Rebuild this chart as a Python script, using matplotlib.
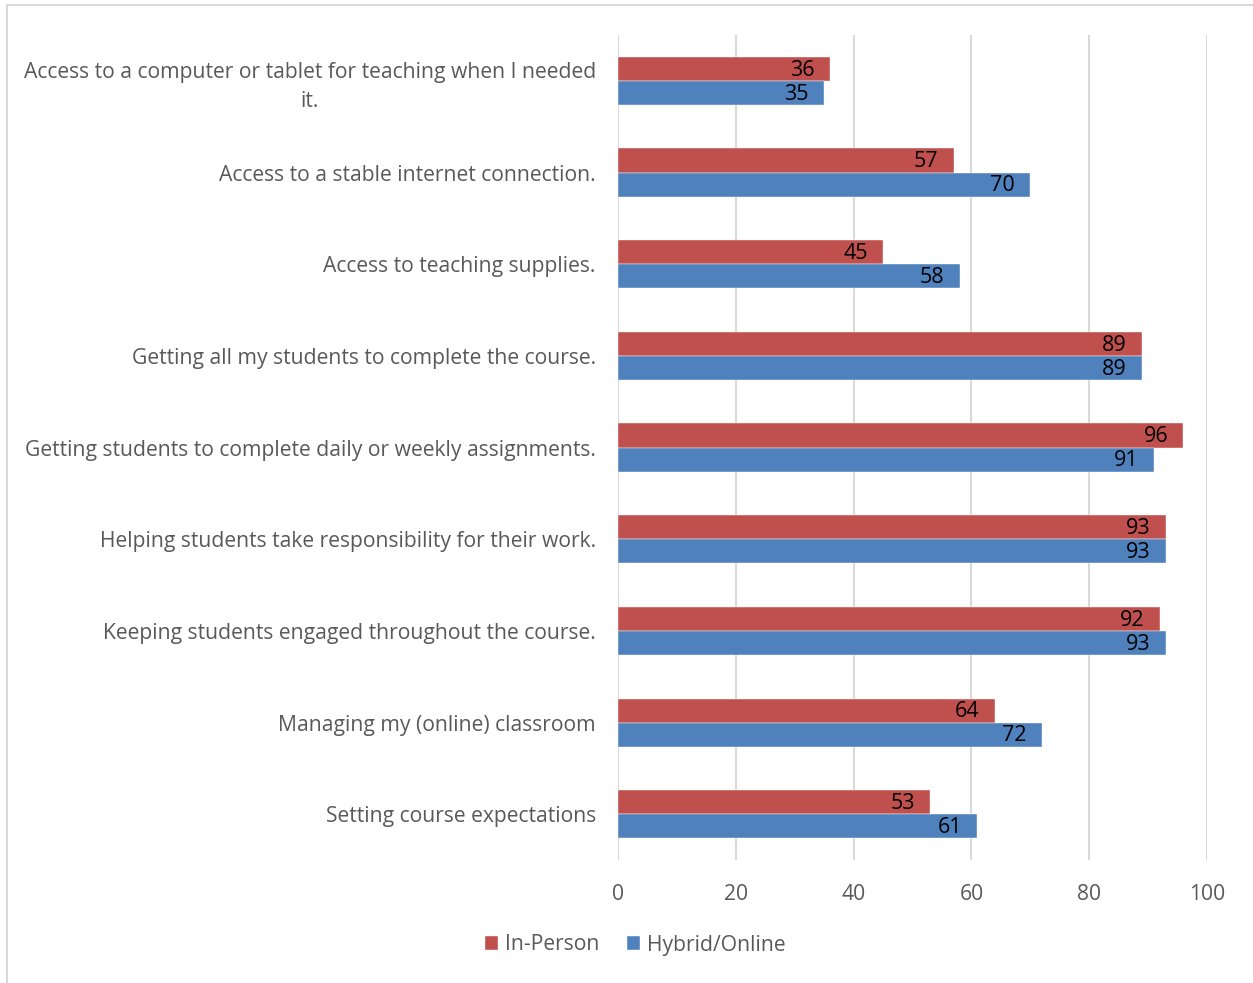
import numpy as np
import matplotlib
matplotlib.use("Agg")
from matplotlib import pyplot as plt
from matplotlib.patches import Rectangle

categories = [
    "Access to a computer or tablet for teaching when I needed\nit.",
    "Access to a stable internet connection.",
    "Access to teaching supplies.",
    "Getting all my students to complete the course.",
    "Getting students to complete daily or weekly assignments.",
    "Helping students take responsibility for their work.",
    "Keeping students engaged throughout the course.",
    "Managing my (online) classroom",
    "Setting course expectations",
]
in_person = [36, 57, 45, 89, 96, 93, 92, 64, 53]
hybrid_online = [35, 70, 58, 89, 91, 93, 93, 72, 61]
x_ticks = [0, 20, 40, 60, 80, 100]

red = "#C0504D"
blue = "#4F81BD"
grey_text = "#595959"

plt.rcParams["font.family"] = ["Open Sans", "DejaVu Sans"]

fig = plt.figure(figsize=(12.53, 9.83), dpi=100)
ax = fig.add_axes([0.4932, 0.1251, 0.4701, 0.8393])

# light frame around the chart area
fig.patches.append(Rectangle((7 / 1253, -0.05), 1.1, 1 - 5 / 983 + 0.05,
                             transform=fig.transFigure, fill=False,
                             edgecolor="#D9D9D9", lw=1.5))

y = np.arange(len(categories))
h = 0.262
ax.barh(y - h / 2, in_person, height=h, color=red, label="In-Person",
        edgecolor="white", linewidth=0.3, zorder=3)
ax.barh(y + h / 2, hybrid_online, height=h, color=blue, label="Hybrid/Online",
        edgecolor="white", linewidth=0.3, zorder=3)

# value labels just inside the bar ends
for vals, offs in ((in_person, -h / 2), (hybrid_online, h / 2)):
    for yi, v in zip(y, vals):
        ax.annotate(str(v), (v, yi + offs), xytext=(-11, -1), textcoords="offset points",
                    ha="right", va="center", fontsize=15.5, color="black", zorder=4)

ax.set_xlim(0, 100)
ax.set_ylim(len(categories) - 0.5, -0.5)
ax.set_xticks(x_ticks)
ax.set_yticks(y)
ax.set_yticklabels(categories, multialignment="center", linespacing=1.45)
ax.tick_params(axis="both", length=0, labelsize=15.2, labelcolor=grey_text)
ax.tick_params(axis="x", pad=17)
ax.tick_params(axis="y", pad=16)
ax.xaxis.grid(True, color="#D9D9D9", lw=1.5, zorder=0)
for s in ax.spines.values():
    s.set_visible(False)

ax.legend(loc="center", bbox_to_anchor=(635 / 1253, 1 - 945 / 983),
          bbox_transform=fig.transFigure, ncol=2, frameon=False, fontsize=15.2,
          handlelength=0.65, handleheight=0.65, handletextpad=0.3, columnspacing=1.3,
          labelcolor=grey_text)

fig.savefig("out.png", dpi=100)
